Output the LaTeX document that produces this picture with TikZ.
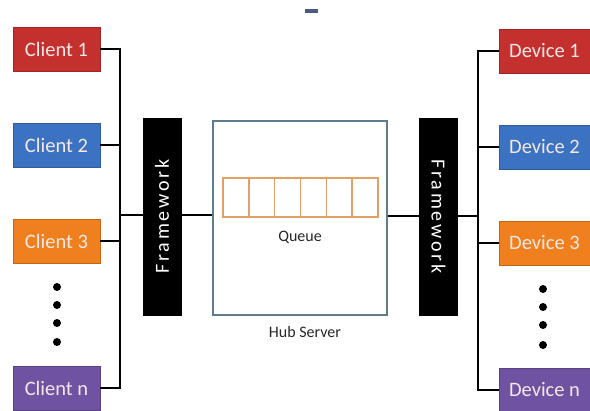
\documentclass[tikz,border=0pt]{standalone}
\usepackage{fontspec}
\setmainfont{Carlito}
\definecolor{cred}{HTML}{C4302E}
\definecolor{cblue}{HTML}{3B72C2}
\definecolor{corange}{HTML}{F0801E}
\definecolor{cpurple}{HTML}{7052A2}
\definecolor{hubline}{HTML}{5E7C8E}
\definecolor{qline}{HTML}{E2A066}
\definecolor{boxtext}{HTML}{F6E8E8}
\definecolor{dashc}{HTML}{4A5A82}
\tikzset{
  unit/.style={draw=#1!80!black, fill=#1, line width=0.8pt, text=boxtext,
    font=\fontsize{20.5}{22}\selectfont, inner sep=0pt},
  client/.style={unit=#1, minimum width=87pt, minimum height=44pt},
  device/.style={unit=#1, minimum width=91pt, minimum height=44pt},
  fw/.style={fill=black, draw=black, minimum width=38pt, minimum height=197pt,
    inner sep=0pt, text=white, font=\fontsize{20}{22}\selectfont\addfontfeature{LetterSpace=14}},
  wire/.style={draw=black, line width=2pt},
  qcell/.style={draw=qline, line width=1.4pt, minimum width=25.8pt, minimum height=39pt, inner sep=0pt},
  dotc/.style={fill=black, circle, minimum size=8pt, inner sep=0pt},
  lbl/.style={text=black!85, font=\fontsize{16}{18}\selectfont}
}
\begin{document}
\begin{tikzpicture}[x=1pt,y=-1pt]
\useasboundingbox (0,0) rectangle (590,411);
% clients
\node[client=cred] (c1) at (56.5,49) {Client 1};
\node[client=cblue] (c2) at (56.5,145) {Client 2};
\node[client=corange] (c3) at (56.5,241) {Client 3};
\node[client=cpurple] (cn) at (56.5,388) {Client n};
% devices
\node[device=cred] (d1) at (544.5,51) {Device 1};
\node[device=cblue] (d2) at (544.5,147) {Device 2};
\node[device=corange] (d3) at (544.5,243) {Device 3};
\node[device=cpurple] (dn) at (544.5,390) {Device n};
% frameworks
\node[fw] (fwl) at (162,216.5) {\rotatebox{90}{Framework}};
\node[fw] (fwr) at (438.5,216.5) {\rotatebox{-90}{Framework}};
% hub
\node[draw=hubline, line width=1.2pt, minimum width=174pt, minimum height=194pt] (hub) at (300,218) {};
\foreach \i in {1,...,6}{
  \node[qcell] (q\i) at ({223+25.8*(\i-0.5)},197.5) {};
}
\node[lbl] (ql) at (300,237) {Queue};
\node[lbl] (hl) at (305,332) {Hub Server};
% bus coordinates
\coordinate (lb) at (120,215);
\coordinate (rb) at (478,216);
% left wiring
\draw[wire] (c1.east) -| (lb);
\draw[wire] (cn.east) -| (lb);
\draw[wire] (c2.east) -- (c2.east -| lb);
\draw[wire] (c3.east) -- (c3.east -| lb);
\draw[wire] (lb) -- (lb -| fwl.west);
\draw[wire] (fwl.east |- lb) -- (lb -| hub.west);
% right wiring
\draw[wire] (d1.west) -| (rb);
\draw[wire] (dn.west) -| (rb);
\draw[wire] (d2.west) -- (d2.west -| rb);
\draw[wire] (d3.west) -- (d3.west -| rb);
\draw[wire] (rb) -- (rb -| fwr.east);
\draw[wire] (fwr.west |- rb) -- (rb -| hub.east);
% dots
\foreach \y [count=\k] in {287,305,323,342}{ \node[dotc] (ld\k) at (57,\y) {}; }
\foreach \y [count=\k] in {289,307,325,345}{ \node[dotc] (rd\k) at (543,\y) {}; }
% small top mark
\fill[dashc] (305,9) rectangle (318,13);
\end{tikzpicture}
\end{document}
